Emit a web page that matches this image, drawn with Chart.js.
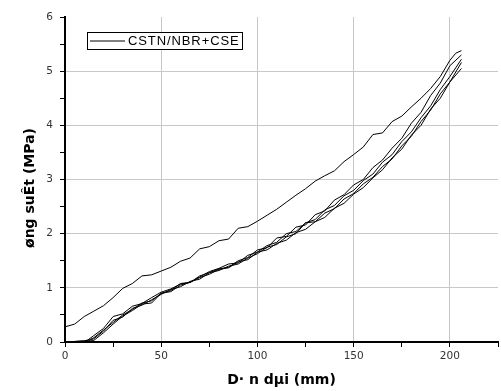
<!DOCTYPE html>
<html>
<head>
<meta charset="utf-8">
<script src="https://cdn.jsdelivr.net/npm/chart.js@4/dist/chart.umd.min.js"></script>
<style>
  body { margin: 0; background: #fff; }
  canvas { display: block; }
</style>
</head>
<body>
<canvas id="chart" width="501" height="391"></canvas>
<script>
// labels
const legendLabel = "CSTN/NBR+CSE";
const xTitle = "D· n dµi (mm)";
const yTitle = "øng suÊt (MPa)";

// first loading cycle (upper curve)
const upperX = [0, 5, 10, 15, 20, 25, 30, 35, 40, 45, 50, 55, 60, 65, 70, 75, 80, 85, 90, 95, 100,
  105, 110, 115, 120, 125, 130, 135, 140, 145, 150, 155, 160, 165, 170, 175, 180, 185, 190, 195, 200, 203, 206];
const upperY = [0.28, 0.33, 0.47, 0.57, 0.67, 0.82, 0.99, 1.08, 1.22, 1.24, 1.31, 1.38, 1.49, 1.55, 1.72, 1.76, 1.87, 1.9, 2.1, 2.13, 2.23,
  2.34, 2.45, 2.58, 2.71, 2.83, 2.97, 3.07, 3.16, 3.33, 3.46, 3.6, 3.83, 3.86, 4.07, 4.17, 4.34, 4.5, 4.68, 4.9, 5.2, 5.33, 5.38];

// following cycles (lower bundle)
const lowerX = [0, 5, 10, 12, 15, 20, 25, 30, 35, 40, 45, 50, 55, 60, 65, 70, 75, 80, 85, 90, 95, 100,
  105, 110, 115, 120, 125, 130, 135, 140, 145, 150, 155, 160, 165, 170, 175, 180, 185, 190, 195, 200, 206];
const cycle2 = [0, 0.01, 0.02, 0.04, 0.12, 0.25, 0.47, 0.52, 0.66, 0.71, 0.82, 0.92, 0.98, 1.07, 1.1, 1.22, 1.28, 1.35, 1.38, 1.5, 1.56, 1.7,
  1.74, 1.92, 1.95, 2.12, 2.16, 2.35, 2.42, 2.62, 2.72, 2.9, 3.0, 3.22, 3.36, 3.58, 3.76, 4.04, 4.24, 4.55, 4.78, 5.1, 5.3];
const cycle3 = [0, 0.01, 0.02, 0.03, 0.08, 0.22, 0.36, 0.5, 0.6, 0.72, 0.76, 0.9, 0.95, 1.08, 1.1, 1.2, 1.3, 1.36, 1.44, 1.46, 1.6, 1.66,
  1.78, 1.84, 2.0, 2.04, 2.2, 2.26, 2.44, 2.52, 2.7, 2.8, 2.98, 3.1, 3.32, 3.46, 3.7, 3.88, 4.14, 4.36, 4.66, 4.9, 5.22];
const cycle4 = [0, 0, 0.01, 0.02, 0.06, 0.2, 0.4, 0.46, 0.62, 0.68, 0.78, 0.88, 0.97, 1.02, 1.12, 1.16, 1.28, 1.32, 1.4, 1.44, 1.55, 1.63,
  1.75, 1.8, 1.94, 2.0, 2.2, 2.22, 2.38, 2.46, 2.64, 2.74, 2.92, 3.04, 3.24, 3.38, 3.62, 3.8, 4.07, 4.28, 4.58, 4.8, 5.16];
const cycle5 = [0, 0, 0, 0.01, 0.03, 0.17, 0.33, 0.48, 0.58, 0.7, 0.72, 0.9, 0.93, 1.05, 1.1, 1.19, 1.25, 1.34, 1.37, 1.48, 1.52, 1.66,
  1.7, 1.82, 1.88, 2.02, 2.08, 2.22, 2.3, 2.47, 2.56, 2.73, 2.85, 3.03, 3.18, 3.4, 3.56, 3.82, 4.0, 4.3, 4.5, 4.8, 5.05];

const toPoints = (xs, ys) => xs.map((x, i) => ({ x: x, y: ys[i] }));

function curve(xs, ys) {
  return {
    data: toPoints(xs, ys),
    borderColor: "#000",
    borderWidth: 1,
    pointRadius: 0,
    tension: 0,
    fill: false,
  };
}

const gridGray = "#c8c8c8";

// legend box + rotated y title drawn on top
const extras = {
  id: "extras",
  afterDraw(chart) {
    const ctx = chart.ctx;
    const area = chart.chartArea;
    ctx.save();
    // legend
    const bx = area.left + 22, by = area.top + 15, bw = 155, bh = 17;
    ctx.fillStyle = "#fff";
    ctx.fillRect(bx, by, bw, bh);
    ctx.strokeStyle = "#000";
    ctx.lineWidth = 1;
    ctx.strokeRect(bx + 0.5, by + 0.5, bw, bh);
    ctx.beginPath();
    ctx.moveTo(bx + 3, by + 9);
    ctx.lineTo(bx + 38, by + 9);
    ctx.stroke();
    ctx.fillStyle = "#000";
    ctx.font = "13px 'Liberation Sans', Arial, sans-serif";
    ctx.letterSpacing = "0.9px";
    ctx.textBaseline = "middle";
    ctx.textAlign = "left";
    ctx.fillText(legendLabel, bx + 41, by + 9.5);
    ctx.letterSpacing = "0px";
    // y title
    ctx.translate(30, 188);
    ctx.rotate(-Math.PI / 2);
    ctx.font = "bold 14px 'DejaVu Sans', sans-serif";
    ctx.textAlign = "center";
    ctx.fillText(yTitle, 0, 0);
    ctx.restore();
  }
};

new Chart(document.getElementById("chart").getContext("2d"), {
  type: "line",
  data: {
    datasets: [
      curve(upperX, upperY),
      curve(lowerX, cycle2),
      curve(lowerX, cycle3),
      curve(lowerX, cycle4),
      curve(lowerX, cycle5),
    ],
  },
  options: {
    responsive: false,
    animation: false,
    layout: { padding: { top: 17, right: 0, left: 0, bottom: 0 } },
    plugins: {
      legend: { display: false },
      tooltip: { enabled: false },
    },
    scales: {
      x: {
        type: "linear",
        min: 0,
        max: 225,
        afterFit: (s) => { s.height = 49; },
        ticks: {
          stepSize: 25,
          autoSkip: false,
          maxRotation: 0,
          padding: 3,
          color: "#333",
          font: { family: "'DejaVu Sans', sans-serif", size: 10.5 },
          callback: (v) => (v % 50 === 0 ? v : ""),
        },
        grid: {
          color: (c) => (c.tick && c.tick.value % 50 === 0 && c.tick.value > 0 && c.tick.value < 225 ? gridGray : "rgba(0,0,0,0)"),
          tickColor: "#000",
          tickLength: 5,
          lineWidth: 1,
        },
        border: { color: "#000", width: 2 },
        title: {
          display: true,
          text: xTitle,
          color: "#000",
          padding: { top: 0, bottom: 2 },
          font: { family: "'DejaVu Sans', sans-serif", size: 14, weight: "bold" },
        },
      },
      y: {
        min: 0,
        max: 6,
        afterFit: (s) => { s.width = 65; },
        ticks: {
          stepSize: 0.5,
          autoSkip: false,
          padding: 7,
          color: "#333",
          font: { family: "'DejaVu Sans', sans-serif", size: 10.5 },
          callback: (v) => (Number.isInteger(v) ? v : ""),
        },
        grid: {
          color: (c) => (c.tick && Number.isInteger(c.tick.value) && c.tick.value > 0 && c.tick.value < 6 ? gridGray : "rgba(0,0,0,0)"),
          tickColor: "#000",
          tickLength: 5,
          lineWidth: 1,
        },
        border: { color: "#000", width: 2 },
      },
    },
  },
  plugins: [extras],
});
</script>
</body>
</html>
